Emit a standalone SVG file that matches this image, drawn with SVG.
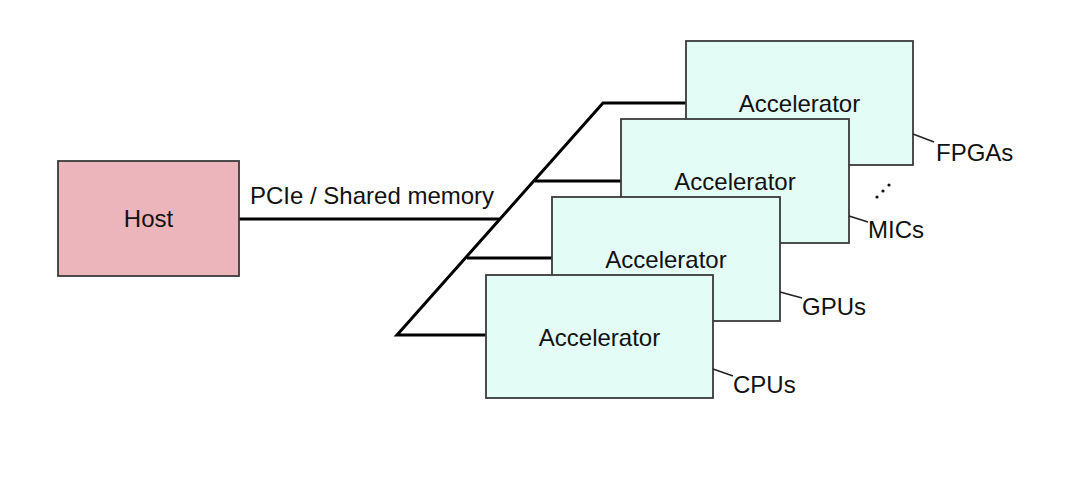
<svg xmlns="http://www.w3.org/2000/svg" width="1075" height="479" viewBox="0 0 1075 479">
<style>
text{font-family:"Liberation Sans",Arial,sans-serif;font-size:24px;fill:#111}
.acc{fill:#e3fcf6;stroke:#3a3a3a;stroke-width:1.8}
.host{fill:#ebb5bb;stroke:#3a3a3a;stroke-width:1.8}
.bus{fill:none;stroke:#000;stroke-width:3}
.lead{fill:none;stroke:#222;stroke-width:1.5}
.c{text-anchor:middle}
</style>
<rect width="1075" height="479" fill="#fff"/>
<g id="connectors">
<polyline class="bus" points="686,103 603,103 397,335 486,335"/>
<line class="bus" x1="239" y1="219" x2="499" y2="219"/>
<line class="bus" x1="535" y1="181" x2="621" y2="181"/>
<line class="bus" x1="467" y1="258" x2="552" y2="258"/>
</g>
<g id="host">
<rect class="host" x="58" y="161" width="181" height="115"/>
<text class="c" x="148.5" y="227">Host</text>
</g>
<text id="bus-label" x="250" y="204">PCIe / Shared memory</text>
<g id="fpga">
<rect class="acc" x="686" y="41" width="227" height="124"/>
<text class="c" x="799.5" y="112">Accelerator</text>
<line class="lead" x1="913" y1="134" x2="934" y2="142"/>
<text x="936" y="161">FPGAs</text>
</g>
<g id="mic">
<rect class="acc" x="621" y="119" width="228" height="124"/>
<text class="c" x="735" y="190">Accelerator</text>
<line class="lead" x1="849" y1="216" x2="868" y2="222"/>
<text x="868" y="238">MICs</text>
</g>
<g id="gpu">
<rect class="acc" x="552" y="197" width="228" height="124"/>
<text class="c" x="666" y="268">Accelerator</text>
<line class="lead" x1="780" y1="292" x2="802" y2="298"/>
<text x="802" y="315">GPUs</text>
</g>
<g id="cpu">
<rect class="acc" x="486" y="275" width="227" height="123"/>
<text class="c" x="599.5" y="346">Accelerator</text>
<line class="lead" x1="713" y1="369" x2="733" y2="376"/>
<text x="733" y="393">CPUs</text>
</g>
<g id="ellipsis" fill="#111">
<circle cx="877" cy="197" r="1.6"/>
<circle cx="883" cy="191" r="1.6"/>
<circle cx="889" cy="185" r="1.6"/>
</g>
</svg>
